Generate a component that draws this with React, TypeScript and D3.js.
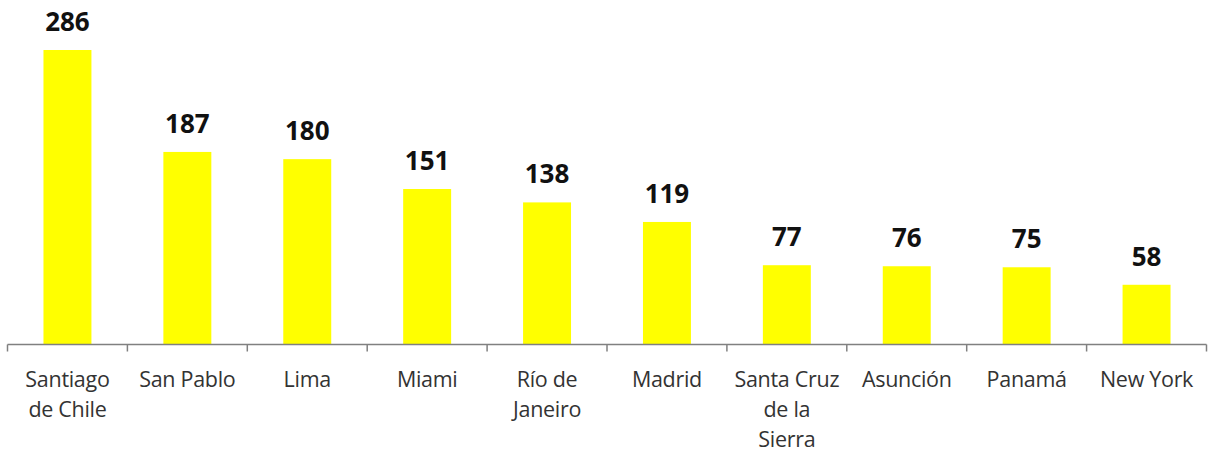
import React, { useEffect, useRef } from "react";
import * as d3 from "d3";

const cities = [
  "Santiago de Chile",
  "San Pablo",
  "Lima",
  "Miami",
  "Río de Janeiro",
  "Madrid",
  "Santa Cruz de la Sierra",
  "Asunción",
  "Panamá",
  "New York",
];
const values = [286, 187, 180, 151, 138, 119, 77, 76, 75, 58];
// line breaks as in the picture
const labelLines = [
  ["Santiago", "de Chile"],
  ["San Pablo"],
  ["Lima"],
  ["Miami"],
  ["Río de", "Janeiro"],
  ["Madrid"],
  ["Santa Cruz", "de la", "Sierra"],
  ["Asunción"],
  ["Panamá"],
  ["New York"],
];

const App = () => {
  const svgRef = useRef<SVGSVGElement>(null);

  useEffect(() => {
    const width = 1209;
    const height = 454;
    const baseY = 344.5;
    const left = 7.5;
    const right = 1206.5;

    const svg = d3.select(svgRef.current);
    svg.selectAll("*").remove();

    const x = d3.scaleBand<string>().domain(cities).range([left, right]).paddingInner(0.6).paddingOuter(0.3);
    const band = (right - left) / cities.length;
    const y = d3.scaleLinear().domain([0, 286]).range([baseY, 50]);

    // bars
    svg
      .append("g")
      .selectAll("rect")
      .data(values)
      .join("rect")
      .attr("x", (d, i) => x(cities[i])!)
      .attr("y", (d) => y(d))
      .attr("width", x.bandwidth())
      .attr("height", (d) => baseY - y(d))
      .attr("fill", "#ffff00");

    // value labels
    svg
      .append("g")
      .selectAll("text")
      .data(values)
      .join("text")
      .attr("x", (d, i) => x(cities[i])! + x.bandwidth() / 2)
      .attr("y", (d) => y(d) - 19)
      .attr("text-anchor", "middle")
      .attr("font-family", "'Open Sans', sans-serif")
      .attr("font-weight", "bold")
      .attr("font-size", 26)
      .attr("fill", "#111")
      .text((d) => d);

    // axis
    const axis = svg.append("g").attr("stroke", "#808080").attr("stroke-width", 1.5);
    axis.append("line").attr("x1", left).attr("x2", right).attr("y1", baseY).attr("y2", baseY);
    d3.range(cities.length + 1).forEach((i) => {
      const tx = left + i * band;
      axis.append("line").attr("x1", tx).attr("x2", tx).attr("y1", baseY).attr("y2", baseY + 7);
    });

    // category labels
    const lab = svg.append("g");
    labelLines.forEach((lines, i) => {
      const cx = x(cities[i])! + x.bandwidth() / 2;
      const t = lab
        .append("text")
        .attr("text-anchor", "middle")
        .attr("font-family", "'Open Sans', sans-serif")
        .attr("font-size", 21.5)
        .attr("fill", "#333")
        .attr("letter-spacing", -0.3);
      lines.forEach((ln, j) => {
        t.append("tspan").attr("x", cx).attr("y", 387 + j * 30).text(ln);
      });
    });

    svg.attr("width", width).attr("height", height);
  }, []);

  return (
    <svg
      ref={svgRef}
      style={{ position: "absolute", left: 0, top: 0, display: "block", background: "#fff" }}
    ></svg>
  );
};

export default App;
